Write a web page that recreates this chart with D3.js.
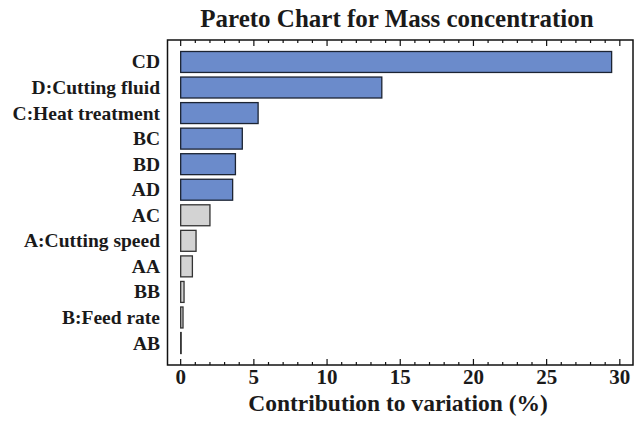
<!DOCTYPE html>
<html>
<head>
<meta charset="utf-8">
<script src="https://cdn.jsdelivr.net/npm/d3@7"></script>
<style>
  body { margin: 0; background: #fff; }
  text { font-family: "Liberation Serif", "Times New Roman", serif; font-weight: bold; fill: #1a1a1a; }
</style>
</head>
<body>
<div id="chart"></div>
<script>
const factors = ["CD", "D:Cutting fluid", "C:Heat treatment", "BC", "BD", "AD",
  "AC", "A:Cutting speed", "AA", "BB", "B:Feed rate", "AB"];
const contribution = [29.44, 13.74, 5.29, 4.21, 3.74, 3.55, 2.0, 1.05, 0.8, 0.23, 0.16, 0.02];
const significant = [true, true, true, true, true, true, false, false, false, false, false, false];
const xTicks = [0, 5, 10, 15, 20, 25, 30];

const width = 641, height = 432;
const plotLeft = 167.5, plotRight = 633, plotTop = 40, plotBottom = 365;

const svg = d3.select("#chart").append("svg")
  .attr("width", width)
  .attr("height", height);

const x = d3.scaleLinear().domain([-0.9, 30.9]).range([plotLeft, plotRight]);
const y = d3.scaleBand().domain(factors).range([plotTop, plotBottom])
  .paddingInner(0.18).paddingOuter(0.45);

// bars
svg.append("g").selectAll("rect")
  .data(factors)
  .enter().append("rect")
  .attr("x", x(0))
  .attr("y", d => y(d))
  .attr("width", (d, i) => Math.max(x(contribution[i]) - x(0), 0.5))
  .attr("height", y.bandwidth())
  .attr("fill", (d, i) => significant[i] ? "#6b8bcb" : "#d3d3d3")
  .attr("stroke", (d, i) => significant[i] ? "#1c2433" : "#333")
  .attr("stroke-width", 1.3);

// frame
svg.append("rect")
  .attr("x", plotLeft).attr("y", plotTop)
  .attr("width", plotRight - plotLeft).attr("height", plotBottom - plotTop)
  .attr("fill", "none")
  .attr("stroke", "#111")
  .attr("stroke-width", 1.5);

// ticks, pointing inward on top and bottom
const minor = d3.range(0, 31, 1).filter(v => v % 5 !== 0);
const tickG = svg.append("g").attr("stroke", "#111").attr("stroke-width", 1.2);
[[plotBottom, -1], [plotTop, 1]].forEach(([y0, dir]) => {
  tickG.selectAll(null).data(xTicks).enter().append("line")
    .attr("x1", d => x(d)).attr("x2", d => x(d))
    .attr("y1", y0).attr("y2", y0 + dir * 6);
  tickG.selectAll(null).data(minor).enter().append("line")
    .attr("x1", d => x(d)).attr("x2", d => x(d))
    .attr("y1", y0).attr("y2", y0 + dir * 3);
});

// tick labels
svg.append("g").selectAll("text")
  .data(xTicks)
  .enter().append("text")
  .attr("x", d => x(d))
  .attr("y", 384)
  .attr("text-anchor", "middle")
  .attr("font-size", "21px")
  .text(d => d);

// category labels
svg.append("g").selectAll("text")
  .data(factors)
  .enter().append("text")
  .attr("x", 160)
  .attr("y", d => y(d) + y.bandwidth() / 2 + 6.5)
  .attr("text-anchor", "end")
  .attr("font-size", "19.5px")
  .text(d => d);

// title and axis title
svg.append("text")
  .attr("x", 397).attr("y", 27)
  .attr("text-anchor", "middle")
  .attr("font-size", "25px")
  .text("Pareto Chart for Mass concentration");

svg.append("text")
  .attr("x", 398).attr("y", 411)
  .attr("text-anchor", "middle")
  .attr("font-size", "23.5px")
  .text("Contribution to variation (%)");
</script>
</body>
</html>
